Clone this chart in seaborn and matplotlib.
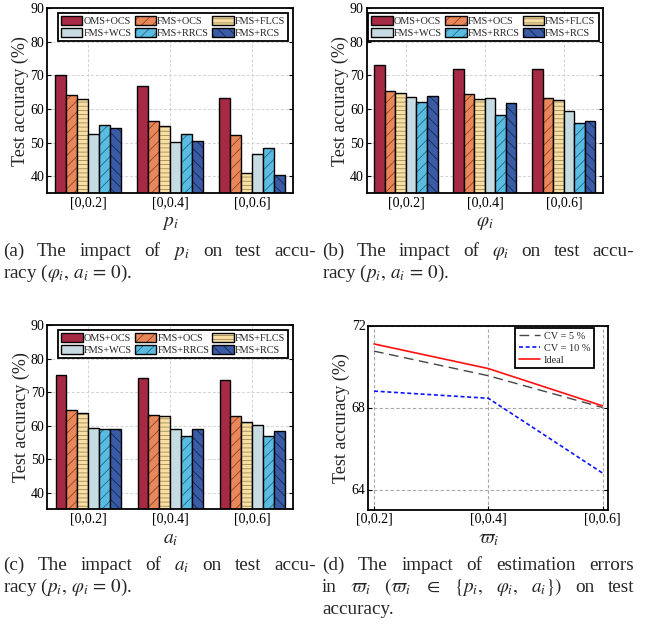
import numpy as np
import pandas as pd
import matplotlib
matplotlib.use("Agg")
import matplotlib.pyplot as plt
import matplotlib.colors as mcolors
import seaborn as sns

# ---------------- data ----------------
methods = ["OMS+OCS", "FMS+OCS", "FMS+FLCS", "FMS+WCS", "FMS+RRCS", "FMS+RCS"]
ranges = ["[0,0.2]", "[0,0.4]", "[0,0.6]"]

# (a) impact of p_i
acc_p_oms_ocs = [70.2, 66.7, 63.2]
acc_p_fms_ocs = [64.1, 56.4, 52.4]
acc_p_fms_flcs = [62.9, 54.9, 41.0]
acc_p_fms_wcs = [52.7, 50.3, 46.7]
acc_p_fms_rrcs = [55.2, 52.5, 48.5]
acc_p_fms_rcs = [54.4, 50.6, 40.4]

# (b) impact of varphi_i
acc_phi_oms_ocs = [73.2, 72.0, 71.9]
acc_phi_fms_ocs = [65.4, 64.6, 63.4]
acc_phi_fms_flcs = [64.8, 63.1, 62.8]
acc_phi_fms_wcs = [63.7, 63.4, 59.4]
acc_phi_fms_rrcs = [62.2, 58.3, 55.9]
acc_phi_fms_rcs = [63.9, 61.8, 56.4]

# (c) impact of a_i
acc_a_oms_ocs = [75.1, 74.3, 73.7]
acc_a_fms_ocs = [64.6, 63.2, 62.7]
acc_a_fms_flcs = [63.7, 62.7, 61.0]
acc_a_fms_wcs = [59.2, 59.1, 60.1]
acc_a_fms_rrcs = [59.1, 57.0, 56.8]
acc_a_fms_rcs = [58.9, 59.0, 58.3]

# (d) estimation errors
acc_cv5 = [70.75, 69.55, 68.0]
acc_cv10 = [68.8, 68.45, 64.8]
acc_ideal = [71.1, 69.9, 68.08]
line_labels = ["CV = 5 %", "CV = 10 %", "Ideal"]

bar_yticks = [40, 50, 60, 70, 80, 90]
line_yticks = [64, 68, 72]

# ---------------- style ----------------
bar_colors = ["#A72A45", "#E9875A", "#F9DEA2", "#C7DBE2", "#5BBCE2", "#3A5CA6"]
hatches = ["", "///", "----", "", "///", "\\\\\\"]
hatch_colors = [None, "#8A4426", "#9C8A5E", None, "#23678A", "#16284F"]

sns.set_style("ticks")
plt.rcParams.update({
    "font.family": ["Liberation Serif", "DejaVu Serif"],
    "mathtext.fontset": "stix",
    "hatch.linewidth": 0.6,
    "axes.linewidth": 1.3,
    "axes.edgecolor": "black",
})

W, H = 647, 632
fig = plt.figure(figsize=(W / 100, H / 100), dpi=100)
fig.patch.set_facecolor("white")


def add_ax(l, t, r, b):
    return fig.add_axes([l / W, 1 - b / H, (r - l) / W, (b - t) / H])


def style_axes(ax, xlabel, ylab_x):
    ax.tick_params(direction="in", length=3, width=0.8, labelsize=10,
                   right=True, top=False, pad=2, colors="black")
    ax.set_ylabel("Test accuracy (%)", fontsize=13)
    ax.yaxis.set_label_coords(ylab_x, 0.5)
    ax.set_xlabel(xlabel, fontsize=14, labelpad=4)
    for s in ax.spines.values():
        s.set_visible(True)
        s.set_linewidth(1.3)
        s.set_color("black")


def bar_panel(ax, series, xlabel, ylab_x):
    df = pd.DataFrame({
        "range": np.tile(ranges, len(methods)),
        "method": np.repeat(methods, len(ranges)),
        "acc": np.concatenate(series),
    })
    sns.barplot(data=df, x="range", y="acc", hue="method", order=ranges,
                hue_order=methods, palette=bar_colors, saturation=1,
                edgecolor="black", linewidth=1.0, width=0.8, errorbar=None,
                legend=False, ax=ax)
    for cont, h, hc in zip(ax.containers, hatches, hatch_colors):
        for p in cont:
            if h:
                p.set_hatch(h)
            if hc:
                p._hatch_color = mcolors.to_rgba(hc)
    ax.set_xlim(-0.5, 2.5)
    ax.set_ylim(35, 90)
    ax.set_yticks(bar_yticks)
    ax.grid(True, color="#d2d2d2", linestyle=(0, (3, 2)), linewidth=0.7)
    ax.set_axisbelow(True)
    # row-major legend order (matplotlib fills columns first)
    order = [0, 3, 1, 4, 2, 5]
    leg = ax.legend([ax.containers[i] for i in order], [methods[i] for i in order],
                    ncol=3, loc="upper right",
                    bbox_to_anchor=(0.98, 0.975), fontsize=7.4,
                    handlelength=2.1, handleheight=1.0, handletextpad=0.1,
                    columnspacing=0.3, labelspacing=0.2, borderpad=0.3,
                    borderaxespad=0, frameon=True, fancybox=False,
                    edgecolor="black", framealpha=1)
    leg.get_frame().set_linewidth(1.3)
    style_axes(ax, xlabel, ylab_x)


ax_a = add_ax(47, 8, 293, 193.3)
bar_panel(ax_a, [acc_p_oms_ocs, acc_p_fms_ocs, acc_p_fms_flcs,
                 acc_p_fms_wcs, acc_p_fms_rrcs, acc_p_fms_rcs], r"$p_i$", -0.072)

ax_b = add_ax(366.5, 8, 603.3, 193.3)
bar_panel(ax_b, [acc_phi_oms_ocs, acc_phi_fms_ocs, acc_phi_fms_flcs,
                 acc_phi_fms_wcs, acc_phi_fms_rrcs, acc_phi_fms_rcs], r"$\varphi_i$", -0.076)

ax_c = add_ax(47.3, 325, 293.3, 509.3)
bar_panel(ax_c, [acc_a_oms_ocs, acc_a_fms_ocs, acc_a_fms_flcs,
                 acc_a_fms_wcs, acc_a_fms_rrcs, acc_a_fms_rcs], r"$a_i$", -0.072)

# ---------------- (d) line chart ----------------
ax_d = add_ax(368.3, 325.5, 608.3, 510)
sns.lineplot(x=ranges, y=acc_cv5, color="#454545", linewidth=1.0,
             linestyle=(0, (7, 4)), label=line_labels[0], sort=False, ax=ax_d)
sns.lineplot(x=ranges, y=acc_cv10, color="#0A14FF", linewidth=1.2,
             linestyle=(0, (2.4, 1.6)), label=line_labels[1], sort=False, ax=ax_d)
sns.lineplot(x=ranges, y=acc_ideal, color="#FF1010", linewidth=1.2,
             linestyle="-", label=line_labels[2], sort=False, ax=ax_d)
ax_d.set_xlim(-0.05, 2.05)
ax_d.set_ylim(63, 72)
ax_d.set_yticks(line_yticks)
ax_d.grid(True, color="#a8a8a8", linestyle=(0, (3, 2)), linewidth=0.8)
ax_d.set_axisbelow(True)
leg = ax_d.legend(loc="upper right", bbox_to_anchor=(0.939, 0.985),
                  fontsize=7.4, handlelength=2.1, handletextpad=0.3,
                  labelspacing=0.25, borderpad=0.35, borderaxespad=0,
                  frameon=True, fancybox=False, edgecolor="black", framealpha=1)
leg.get_frame().set_linewidth(1.3)
style_axes(ax_d, r"$\varpi_i$", -0.078)

# ---------------- captions ----------------
CAP = 13.8
renderer = fig.canvas.get_renderer()


def justified(words, x0, x1, y):
    texts = [fig.text(0, 1 - y / H, w, fontsize=CAP, ha="left", va="baseline")
             for w in words]
    widths = [t.get_window_extent(renderer=renderer).width for t in texts]
    gap = (x1 - x0 - sum(widths)) / (len(words) - 1)
    x = x0
    for t, w in zip(texts, widths):
        t.set_x(x / W)
        x += w + gap


def plain(s, x0, y):
    fig.text(x0 / W, 1 - y / H, s, fontsize=CAP, ha="left", va="baseline")


justified(["(a)", "The", "impact", "of", r"$p_i$", "on", "test", "accu-"], 3, 316, 256)
plain(r"racy ($\varphi_i,\, a_i \,=\, 0$).", 3, 278)
justified(["(b)", "The", "impact", "of", r"$\varphi_i$", "on", "test", "accu-"], 322, 634, 256)
plain(r"racy ($p_i,\, a_i \,=\, 0$).", 322, 278)
justified(["(c)", "The", "impact", "of", r"$a_i$", "on", "test", "accu-"], 3, 316, 570)
plain(r"racy ($p_i,\, \varphi_i \,=\, 0$).", 3, 592)
justified(["(d)", "The", "impact", "of", "estimation", "errors"], 322, 634, 570)
justified(["in", r"$\varpi_i$", r"$(\varpi_i$", r"$\in$", r"$\{p_i,$",
           r"$\varphi_i,$", r"$a_i\})$", "on", "test"], 322, 634, 592)
plain("accuracy.", 322, 614)

fig.savefig("out.png", dpi=100, facecolor="white")
